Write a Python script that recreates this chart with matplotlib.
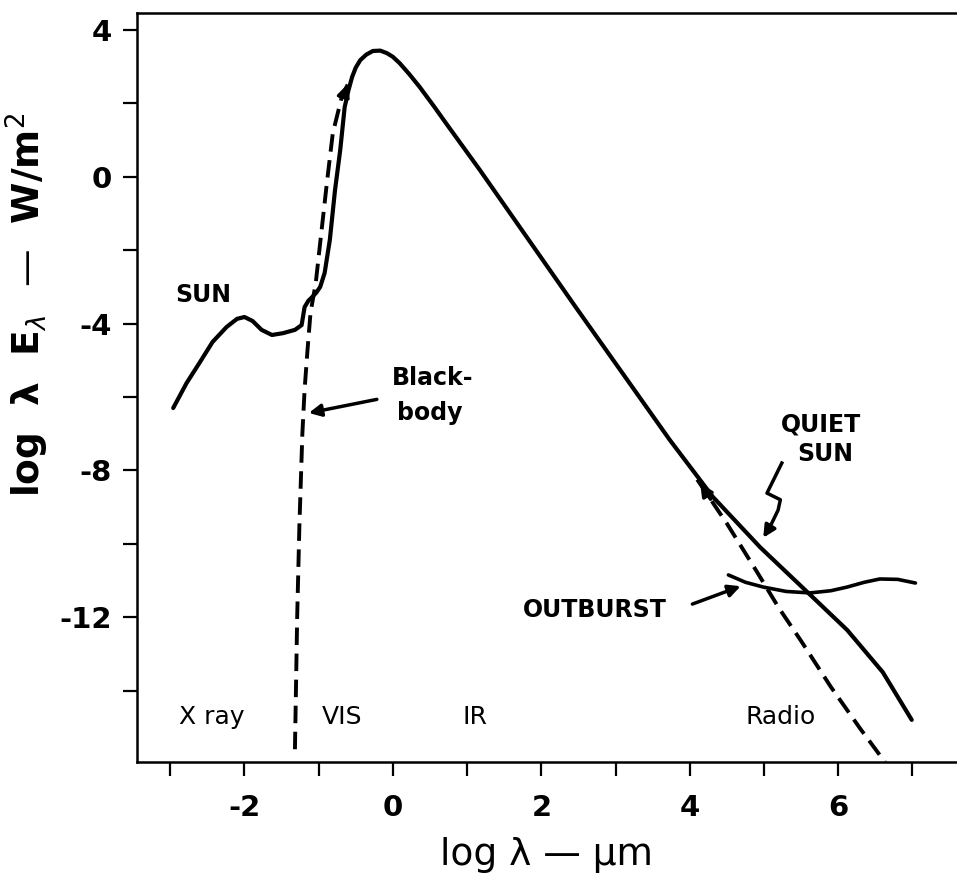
import numpy as np
import matplotlib.pyplot as plt

plt.rcParams['axes.unicode_minus'] = False

# solar spectrum (solid): log wavelength (um) vs log(lambda E_lambda)
sun_x = [-2.96, -2.78, -2.6, -2.43, -2.24, -2.1, -2.0, -1.89, -1.77, -1.63, -1.48,
         -1.32, -1.23, -1.19, -1.14, -1.09, -1.03, -0.98, -0.92, -0.85, -0.78, -0.71,
         -0.65, -0.6, -0.55, -0.5, -0.44, -0.36, -0.27, -0.17, -0.08, 0.0, 0.09,
         0.22, 0.36, 0.55, 0.73, 1.17, 2.48, 3.73, 4.31, 4.95, 5.58, 6.12, 6.6, 6.99]
sun_y = [-6.3, -5.62, -5.05, -4.5, -4.09, -3.87, -3.82, -3.93, -4.17, -4.31, -4.26,
         -4.17, -4.04, -3.55, -3.38, -3.28, -3.15, -3.0, -2.62, -1.72, -0.36, 0.73,
         1.9, 2.35, 2.72, 2.98, 3.18, 3.33, 3.43, 3.44, 3.37, 3.27, 3.1,
         2.8, 2.45, 1.93, 1.42, 0.19, -3.6, -7.17, -8.72, -10.1, -11.31, -12.35, -13.5, -14.8]

# blackbody (dashed), short-wave and long-wave parts where it leaves the solar curve
bb_blue_x = [-1.32, -1.29, -1.26, -1.22, -1.19, -1.15, -1.11, -1.04, -0.98, -0.89, -0.81, -0.69, -0.58]
bb_blue_y = [-15.6, -12.0, -9.5, -7.0, -5.8, -4.7, -3.7, -2.9, -1.8, -0.17, 1.19, 2.17, 2.64]
bb_red_x = [4.1, 4.5, 4.9, 5.2, 5.5, 5.9, 6.3, 6.63]
bb_red_y = [-8.25, -9.45, -10.75, -11.75, -12.65, -13.9, -15.05, -15.95]

# radio outburst
burst_x = [4.52, 4.75, 4.99, 5.3, 5.62, 5.9, 6.12, 6.35, 6.56, 6.8, 7.04]
burst_y = [-10.85, -11.05, -11.18, -11.3, -11.34, -11.28, -11.18, -11.05, -10.96, -10.97, -11.07]

# zigzag pointer for "QUIET SUN"
zig_x = [5.24, 5.04, 5.22, 5.19, 5.08]
zig_y = [-7.8, -8.62, -8.8, -9.08, -9.54]

band_labels = ['X ray', 'VIS', 'IR', 'Radio']
band_x = [-2.44, -0.69, 1.1, 5.22]

fig = plt.figure(figsize=(9.57, 8.8), dpi=100)
ax = fig.add_axes([0.143, 0.134, 0.857, 0.851])

ax.plot(sun_x, sun_y, color='black', lw=3.0, solid_capstyle='round', solid_joinstyle='round')
ax.plot(bb_blue_x, bb_blue_y, color='black', lw=2.8, dashes=(4.5, 2.2))
ax.plot(bb_red_x, bb_red_y, color='black', lw=2.8, dashes=(4.5, 2.2))
ax.plot(burst_x, burst_y, color='black', lw=2.6, solid_capstyle='round', solid_joinstyle='round')

# small arrowheads where the blackbody runs under the solar curve
ax.annotate('', xy=(-0.6, 2.6), xytext=(-0.68, 2.1),
            arrowprops=dict(arrowstyle='-|>', color='black', lw=2.5, mutation_scale=18))
ax.annotate('', xy=(4.12, -8.3), xytext=(4.3, -8.85),
            arrowprops=dict(arrowstyle='-|>', color='black', lw=2.5, mutation_scale=18))

txt = dict(fontsize=17, fontweight='bold', color='black')
ax.text(-2.56, -3.22, 'SUN', ha='center', va='center', **txt)
ax.text(0.54, -5.48, 'Black-', ha='center', va='center', **txt)
ax.text(0.5, -6.44, 'body', ha='center', va='center', **txt)
ax.annotate('', xy=(-1.17, -6.45), xytext=(-0.18, -6.05),
            arrowprops=dict(arrowstyle='-|>', color='black', lw=2.5, mutation_scale=18))

ax.text(5.77, -6.74, 'QUIET', ha='center', va='center', **txt)
ax.text(5.82, -7.55, 'SUN', ha='center', va='center', **txt)
ax.plot(zig_x, zig_y, color='black', lw=2.5)
ax.annotate('', xy=(4.97, -9.9), xytext=(zig_x[-1], zig_y[-1]),
            arrowprops=dict(arrowstyle='-|>', color='black', lw=2.5, mutation_scale=18))

ax.text(2.72, -11.8, 'OUTBURST', ha='center', va='center', **txt)
ax.annotate('', xy=(4.72, -11.13), xytext=(4.0, -11.67),
            arrowprops=dict(arrowstyle='-|>', color='black', lw=2.5, mutation_scale=18))

for lab, bx in zip(band_labels, band_x):
    ax.text(bx, -14.72, lab, ha='center', va='center', fontsize=18, color='black')

ax.set_xlim(-3.45, 7.6)
ax.set_ylim(-15.95, 4.46)

ax.set_xticks([-2, 0, 2, 4, 6])
ax.set_xticks(np.arange(-3, 8, 1), minor=True)
ax.set_yticks([4, 0, -4, -8, -12])
ax.set_yticks(np.arange(-14, 5, 2), minor=True)
ax.tick_params(which='both', direction='out', length=10, width=1.6, color='black')
ax.tick_params(axis='x', which='major', pad=13, labelsize=21)
ax.tick_params(axis='y', which='major', pad=8, labelsize=21)
for lbl in ax.get_xticklabels() + ax.get_yticklabels():
    lbl.set_fontweight('bold')

ax.spines['right'].set_visible(False)
for s in ['left', 'top', 'bottom']:
    ax.spines[s].set_linewidth(1.8)

ax.set_xlabel('log λ — µm', fontsize=27)
ax.xaxis.set_label_coords(0.5, -0.1)
ax.set_ylabel('log  λ  E$_\\lambda$  —  W/m$^2$', fontsize=27, fontweight='bold')
ax.yaxis.set_label_coords(-0.105, 0.61)

plt.savefig('out.png', dpi=100)
